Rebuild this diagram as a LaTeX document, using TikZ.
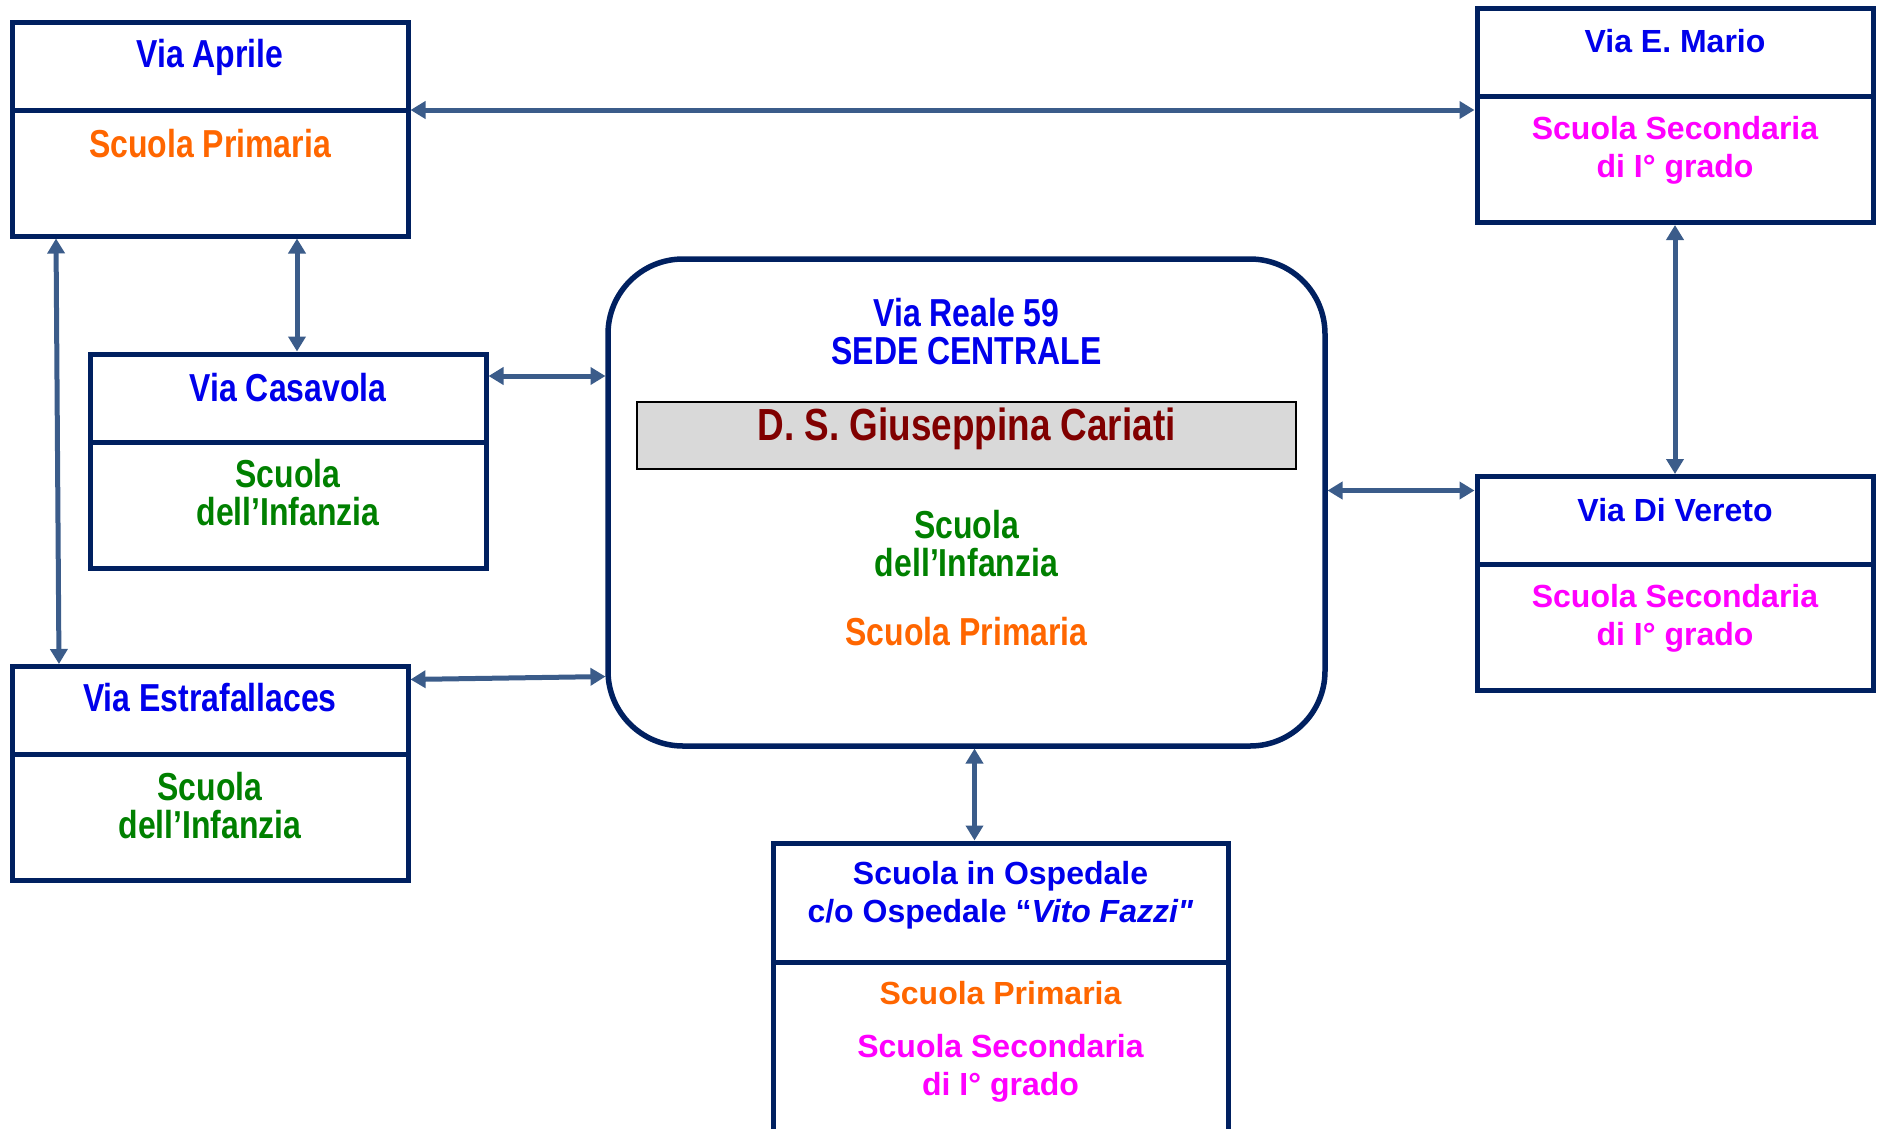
\documentclass[tikz,border=0pt]{standalone}
\usepackage{fontspec}
\setmainfont{Liberation Sans}
\newfontfamily\narrowf[FakeStretch=0.82]{Liberation Sans}
\usetikzlibrary{positioning}
\usetikzlibrary{calc}
\usetikzlibrary{arrows.meta}
\definecolor{boxline}{RGB}{0,32,96}
\definecolor{linkc}{RGB}{59,92,138}
\definecolor{viablue}{RGB}{0,0,235}
\definecolor{primaria}{RGB}{255,102,0}
\definecolor{infanzia}{RGB}{0,128,0}
\definecolor{secondaria}{RGB}{255,0,255}
\definecolor{dsred}{RGB}{128,0,0}
\definecolor{dsgrey}{RGB}{217,217,217}
\def\boxw{396}
\def\headh{88}
\def\bodyh{126}

\begin{document}
\begin{tikzpicture}[x=1pt, y=-1pt]
	\tikzstyle{head} = [rectangle, draw=boxline, line width=5pt, minimum width=\boxw, minimum height=\headh, inner sep=0pt, outer sep=0pt]
	\tikzstyle{body} = [head, minimum height=\bodyh]
	\tikzstyle{link} = [{Triangle[width=17pt,length=15pt]}-{Triangle[width=17pt,length=15pt]}, draw=linkc, line width=5pt, shorten >=2.5pt, shorten <=2.5pt]
	\tikzstyle{narrow} = [font=\narrowf\bfseries\fontsize{39}{38}\selectfont, align=center, inner sep=0pt]
	\tikzstyle{plain} = [font=\bfseries\fontsize{32}{38}\selectfont, align=center, inner sep=0pt]

	\useasboundingbox (0,0) rectangle (1880,1128);
	\clip (0,0) rectangle (1880,1128);

	%%Boxes
	\node [head](aprileT) at (210, 66) {};
	\node [body, below=0pt of aprileT](aprileB) {};
	\node [head](casavolaT) at (288, 398) {};
	\node [body, below=0pt of casavolaT](casavolaB) {};
	\node [head](estrT) at (210, 710.5) {};
	\node [body, below=0pt of estrT](estrB) {};
	\node [head](marioT) at (1675, 52.5) {};
	\node [body, below=0pt of marioT](marioB) {};
	\node [head](veretoT) at (1675, 520.5) {};
	\node [body, below=0pt of veretoT](veretoB) {};
	\node [head, minimum width=455, minimum height=119](ospT) at (1000.5, 902.5) {};
	\node [body, minimum width=455, minimum height=200, below=0pt of ospT](ospB) {};
	\node [rectangle, rounded corners=75pt, draw=boxline, line width=5.5pt, outer sep=0pt, minimum width=717, minimum height=487](sede) at (966.5, 502.5) {};
	\node [rectangle, draw=black, line width=2.5pt, fill=dsgrey, minimum width=659, minimum height=67](ds) at (966.5, 435.5) {};

	%%Labels
	\node [narrow, text=viablue](laprile) at ($(aprileT.north) + (0, 35)$) {Via Aprile};
	\node [narrow, text=primaria](laprileB) at ($(aprileB.north) + (0, 34)$) {Scuola Primaria};
	\node [narrow, text=viablue](lcasavola) at ($(casavolaT.north) + (0, 34)$) {Via Casavola};
	\node [narrow, text=infanzia](lcasavolaB) at ($(casavolaB.north) + (0, 51)$) {Scuola\\dell’Infanzia};
	\node [narrow, text=viablue](lestr) at ($(estrT.north) + (0, 31)$) {Via Estrafallaces};
	\node [narrow, text=infanzia](lestrB) at ($(estrB.north) + (0, 51.5)$) {Scuola\\dell’Infanzia};
	\node [plain, text=viablue](lmario) at ($(marioT.north) + (0, 33)$) {Via E. Mario};
	\node [plain, text=secondaria](lmarioB) at ($(marioB.north) + (0, 54)$) {Scuola Secondaria\\di I° grado};
	\node [plain, text=viablue](lvereto) at ($(veretoT.north) + (0, 34)$) {Via Di Vereto};
	\node [plain, text=secondaria](lveretoB) at ($(veretoB.north) + (0, 53.5)$) {Scuola Secondaria\\di I° grado};
	\node [plain, text=viablue](losp) at ($(ospT.north) + (0, 52)$) {Scuola in Ospedale\\c/o Ospedale “\textit{Vito Fazzi{\addfontfeature{Ligatures=TeXOff}"}}};
	\node [plain, text=primaria](lospP) at ($(ospB.north) + (0, 31)$) {Scuola Primaria};
	\node [plain, text=secondaria](lospS) at ($(ospB.north) + (0, 106)$) {Scuola Secondaria\\di I° grado};
	\node [narrow, text=viablue](lsede) at ($(sede.north) + (0, 72.5)$) {Via Reale 59\\SEDE CENTRALE};
	\node [narrow, text=dsred, font=\narrowf\bfseries\fontsize{45}{45}\selectfont](lds) at ($(ds.center) + (0, -7)$) {D. S. Giuseppina Cariati};
	\node [narrow, text=infanzia](lsedeI) at ($(sede.north) + (0, 284.5)$) {Scuola\\dell’Infanzia};
	\node [narrow, text=primaria](lsedeP) at ($(sede.north) + (0, 373)$) {Scuola Primaria};

	%%Links
	\draw [link] (aprileB.north east) -- (aprileB.north east -| marioB.west);
	\draw [link] ($(casavolaT.north) + (9, 0)$) -- ($(casavolaT.north |- aprileB.south) + (9, 0)$);
	\draw [link] ($(aprileB.south west) + (44, 0)$) -- ($(estrT.north west) + (47, 0)$);
	\draw [link] ($(casavolaT.north east) + (0, 22)$) -- ($(casavolaT.north east -| sede.west) + (0, 22)$);
	\draw [link] ($(estrT.north east) + (0, 13)$) -- ($(estrT.north east -| sede.west) + (0, 10)$);
	\draw [link] ($(veretoT.north west) + (0, 14)$) -- ($(veretoT.north west -| sede.east) + (0, 14)$);
	\draw [link] (marioB.south) -- (veretoT.north);
	\draw [link] ($(ospT.north) + (-26, 0)$) -- ($(ospT.north |- sede.south) + (-26, 0)$);
\end{tikzpicture}
\end{document}
